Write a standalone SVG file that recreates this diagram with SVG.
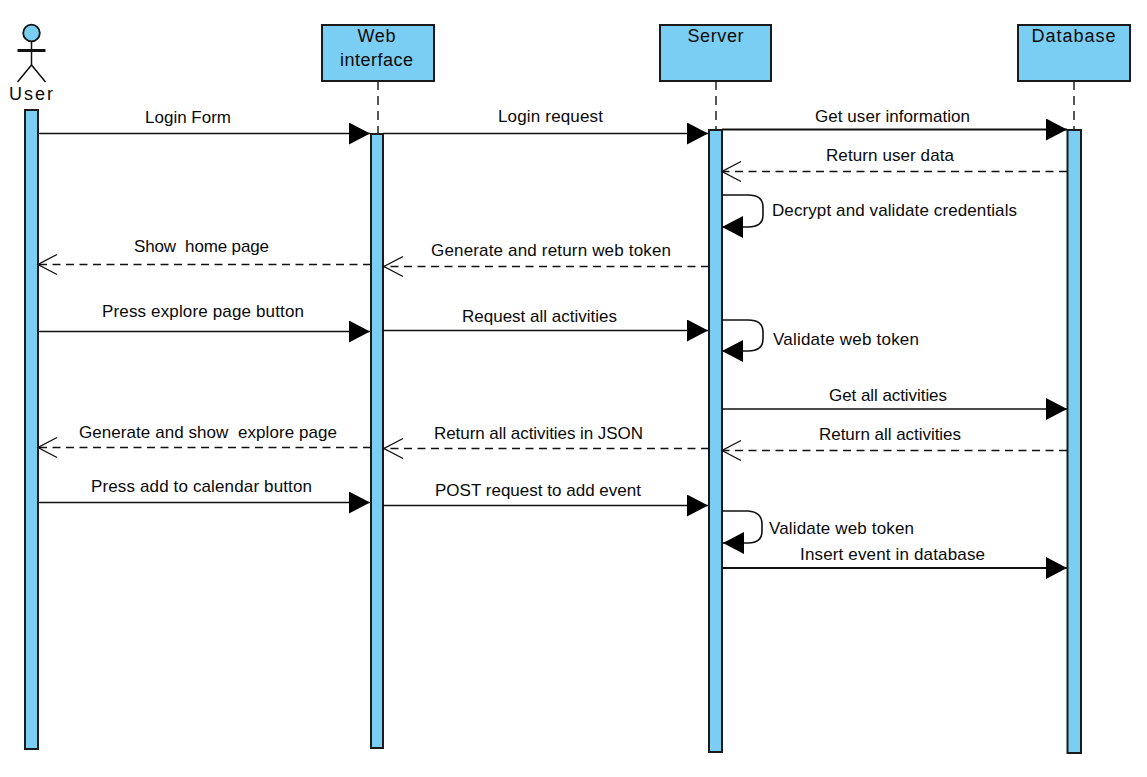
<svg xmlns="http://www.w3.org/2000/svg" width="1147" height="777" viewBox="0 0 1147 777">
<style>
text{font-family:"Liberation Sans",Arial,sans-serif;font-size:17px;fill:#0a0a0a}
.m{text-anchor:middle}
.h{font-size:18px}
.box,.act{fill:#7acef4;stroke:#1a1a1a;stroke-width:2}
.life{stroke:#222;stroke-width:1.5;stroke-dasharray:9 6;fill:none}
.c{stroke:#111;stroke-width:1.6;fill:none}
.sync{marker-end:url(#solid)}
.ret{stroke-dasharray:8 5.5;marker-end:url(#open)}
</style>
<defs>
<marker id="solid" markerUnits="userSpaceOnUse" markerWidth="24" markerHeight="24" refX="21" refY="11" orient="auto"><path d="M0 0L21 11L0 22Z" fill="#000"/></marker>
<marker id="open" markerUnits="userSpaceOnUse" markerWidth="24" markerHeight="24" refX="20" refY="11" orient="auto"><path d="M1 1L20 11L1 21" fill="none" stroke="#111" stroke-width="1.4"/></marker>
</defs>
<rect width="1147" height="777" fill="#fff"/>
<g id="lifelines">
<path class="life" d="M378 81V133M716 81V130M1074 81V130"/>
</g>
<g id="user">
<circle cx="31.5" cy="33" r="8.3" fill="#7acef4" stroke="#111" stroke-width="1.8"/>
<path d="M31.5 41V65" stroke="#111" fill="none" stroke-width="1.5"/>
<path d="M17.5 50.5H45.5" stroke="#111" stroke-width="3"/>
<path d="M17.5 82L31.5 65L45.5 82" stroke="#111" fill="none" stroke-width="1.5"/>
<text x="31" y="99.500" class="m h" textLength="44">User</text>
<rect class="act" x="25" y="110" width="13" height="639"/>
</g>
<g id="web">
<rect class="box" x="322" y="25" width="112" height="56"/>
<text x="376.500" y="41.500" class="m h" textLength="38">Web</text>
<text x="376.500" y="65.500" class="m h" textLength="73">interface</text>
<rect class="act" x="371" y="134" width="12" height="614"/>
</g>
<g id="server">
<rect class="box" x="660" y="25" width="111" height="56"/>
<text x="715.500" y="41.500" class="m h" textLength="56">Server</text>
<rect class="act" x="709" y="130" width="13" height="622"/>
</g>
<g id="database">
<rect class="box" x="1018" y="25" width="112" height="56"/>
<text x="1073.500" y="41.500" class="m h" textLength="84">Database</text>
<rect class="act" x="1067.500" y="130" width="13.500" height="623"/>
</g>
<g id="connectors">
<path class="c sync" d="M38 133.500H370"/>
<path class="c sync" d="M383 133.500H708"/>
<path class="c sync" style="stroke-width:2" d="M722 129.500H1067"/>
<path class="c ret" d="M1067 171.500H722"/>
<path class="c sync" d="M722 195H748Q763 195 763 207V215Q763 227 748 227H722"/>
<path class="c ret" d="M709 266.500H384"/>
<path class="c ret" d="M371 264.500H38"/>
<path class="c sync" d="M38 331.500H370"/>
<path class="c sync" d="M383 330.500H708"/>
<path class="c sync" d="M722 320H748Q763 320 763 332V339Q763 351 748 351H722"/>
<path class="c sync" d="M722 409H1067"/>
<path class="c ret" d="M1067 450.500H722"/>
<path class="c ret" d="M709 448.500H384"/>
<path class="c ret" d="M371 447.500H38"/>
<path class="c sync" d="M38 502.500H370"/>
<path class="c sync" d="M383 505.500H708"/>
<path class="c sync" d="M722 511H748Q762 512 762 524V531Q762 543 748 543H723"/>
<path class="c sync" style="stroke-width:2.200" d="M722 568H1067"/>
</g>
<g id="labels">
<text x="145" y="122.500" textLength="86">Login Form</text>
<text x="498" y="121.500" textLength="105">Login request</text>
<text x="815" y="121.500" textLength="155">Get user information</text>
<text x="826" y="160.500" textLength="128">Return user data</text>
<text x="772" y="215.500" textLength="245">Decrypt and validate credentials</text>
<text x="134" y="251.500" textLength="135" xml:space="preserve">Show  home page</text>
<text x="431" y="255.500" textLength="240">Generate and return web token</text>
<text x="102" y="316.500" textLength="202">Press explore page button</text>
<text x="462" y="321.500" textLength="155">Request all activities</text>
<text x="773" y="344.500" textLength="146">Validate web token</text>
<text x="829" y="400.500" textLength="118">Get all activities</text>
<text x="819" y="439.500" textLength="142">Return all activities</text>
<text x="79" y="437.500" textLength="258" xml:space="preserve">Generate and show  explore page</text>
<text x="434" y="438.500" textLength="209">Return all activities in JSON</text>
<text x="91" y="491.500" textLength="221">Press add to calendar button</text>
<text x="435" y="495.500" textLength="206">POST request to add event</text>
<text x="769" y="533.500" textLength="145">Validate web token</text>
<text x="800" y="559.500" textLength="185">Insert event in database</text>
</g>
</svg>
